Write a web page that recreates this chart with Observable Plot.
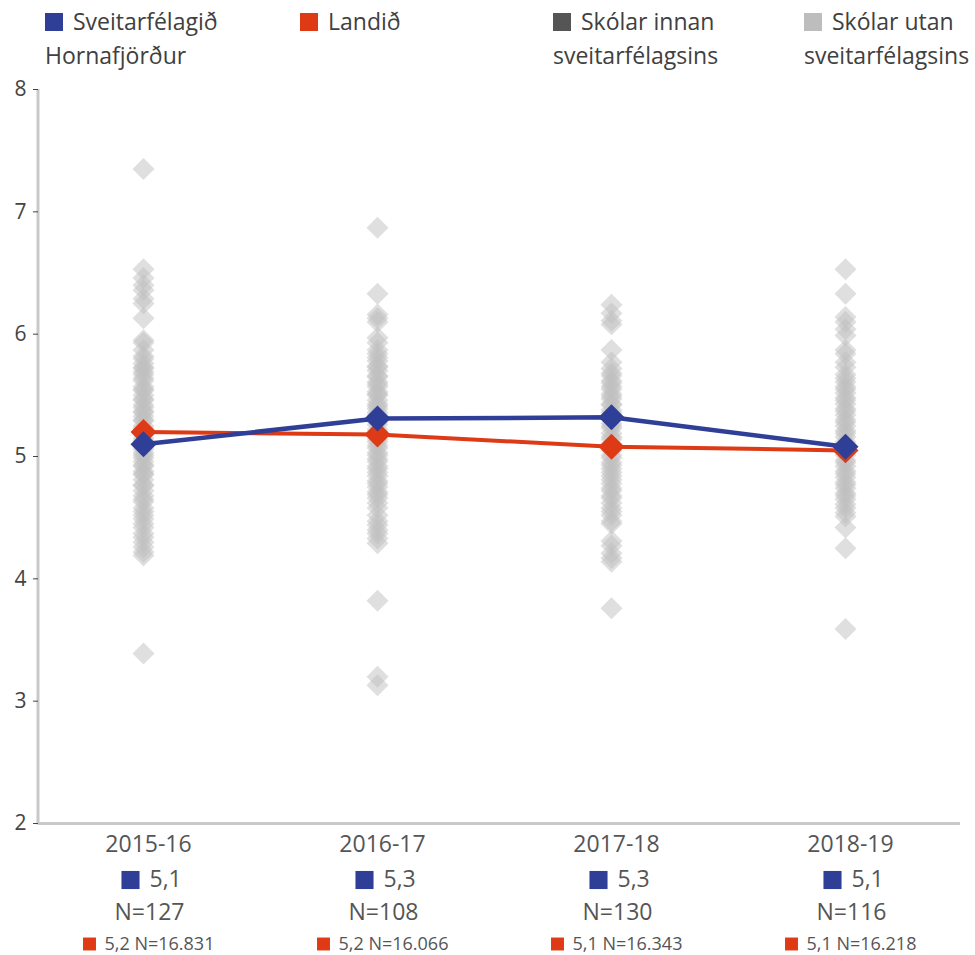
<!DOCTYPE html>
<html>
<head>
<meta charset="utf-8">
<script src="https://cdn.jsdelivr.net/npm/d3@7"></script>
<script src="https://cdn.jsdelivr.net/npm/@observablehq/plot@0.6"></script>
<style>
  html, body { margin: 0; padding: 0; background: #fff; overflow: hidden; }
  body { font-family: "Open Sans", sans-serif; width: 975px; }
  #legend { position: relative; height: 78px; width: 975px; }
  .item { position: absolute; top: 4px; width: 175px; font-size: 23px; line-height: 34px; color: #404040; }
  .sw { display: inline-block; width: 18px; height: 18px; margin-right: 10px; position: relative; top: 1px; }
  #chart svg { display: block; }
</style>
</head>
<body>
<div id="legend"></div>
<div id="chart"></div>
<script>
// ---- data ----
const years = ["2015-16", "2016-17", "2017-18", "2018-19"];
const hornafjordur = [5.10, 5.31, 5.32, 5.08];
const landid = [5.20, 5.18, 5.08, 5.05];
const hornLabels = ["5,1", "5,3", "5,3", "5,1"];
const hornN = ["N=127", "N=108", "N=130", "N=116"];
const landLabels = ["5,2 N=16.831", "5,2 N=16.066", "5,1 N=16.343", "5,1 N=16.218"];
const yTicks = [2, 3, 4, 5, 6, 7, 8];

const schools2015 = [7.35, 6.53, 6.46, 6.40, 6.36, 6.29, 6.25, 6.13, 5.95, 5.93, 5.87, 5.82, 5.80, 5.76,
  5.73, 5.72, 5.69, 5.67, 5.64, 5.62, 5.57, 5.55, 5.54, 5.50, 5.47, 5.46, 5.42, 5.40, 5.37, 5.36,
  5.33, 5.30, 5.29, 5.25, 5.23, 5.21, 5.18, 5.15, 5.13, 5.12, 5.08, 5.06, 5.03, 5.01, 4.99, 4.96,
  4.93, 4.92, 4.88, 4.86, 4.85, 4.81, 4.77, 4.76, 4.72, 4.68, 4.65, 4.63, 4.58, 4.55, 4.52, 4.49,
  4.45, 4.42, 4.37, 4.34, 4.30, 4.26, 4.22, 4.19, 3.39];
const schools2016 = [6.87, 6.33, 6.16, 6.13, 6.10, 5.97, 5.93, 5.87, 5.84, 5.81, 5.78, 5.74, 5.73,
  5.70, 5.66, 5.65, 5.61, 5.59, 5.57, 5.53, 5.51, 5.50, 5.46, 5.43, 5.41, 5.39, 5.36, 5.34, 5.30,
  5.28, 5.26, 5.22, 5.20, 5.18, 5.14, 5.12, 5.09, 5.07, 5.03, 5.01, 4.98, 4.96, 4.92, 4.90, 4.87,
  4.84, 4.80, 4.78, 4.75, 4.71, 4.69, 4.66, 4.62, 4.58, 4.52, 4.47, 4.44, 4.40, 4.37, 4.33, 4.29,
  3.82, 3.20, 3.13];
const schools2017 = [6.24, 6.17, 6.11, 6.08, 5.87, 5.77, 5.72, 5.68, 5.66, 5.62, 5.60, 5.57, 5.55,
  5.51, 5.49, 5.47, 5.43, 5.42, 5.38, 5.36, 5.33, 5.31, 5.27, 5.25, 5.23, 5.19, 5.16, 5.14, 5.10,
  5.08, 5.05, 5.01, 4.99, 4.95, 4.93, 4.90, 4.87, 4.84, 4.81, 4.78, 4.74, 4.72, 4.68, 4.66, 4.62,
  4.58, 4.55, 4.52, 4.47, 4.45, 4.31, 4.27, 4.21, 4.17, 4.14, 3.76];
const schools2018 = [6.53, 6.33, 6.14, 6.10, 6.04, 5.99, 5.87, 5.84, 5.77, 5.73, 5.67, 5.64, 5.61,
  5.57, 5.55, 5.52, 5.48, 5.46, 5.43, 5.39, 5.37, 5.34, 5.30, 5.28, 5.25, 5.21, 5.19, 5.16, 5.12,
  5.10, 5.07, 5.03, 5.01, 4.97, 4.95, 4.92, 4.88, 4.86, 4.83, 4.79, 4.77, 4.74, 4.70, 4.68, 4.65,
  4.61, 4.58, 4.54, 4.51, 4.42, 4.25, 3.59];

const legendItems = ["Sveitarfélagið Hornafjörður", "Landið", "Skólar innan sveitarfélagsins", "Skólar utan sveitarfélagsins"];
const legendColors = ["#2f3e97", "#dd3a15", "#555555", "#bdbdbd"];
const legendLeft = [45, 300, 553, 804];

// ---- tables built from the arrays ----
const series = years.map((year, i) => ({
  year, horn: hornafjordur[i], land: landid[i],
  hornLabel: hornLabels[i], hornN: hornN[i], landLabel: landLabels[i]
}));
const schoolLists = [schools2015, schools2016, schools2017, schools2018];
const schools = years.flatMap((year, i) => schoolLists[i].map(value => ({year, value})));

const BLUE = legendColors[0], RED = legendColors[1];

// ---- legend ----
const legend = document.getElementById("legend");
legendItems.forEach((label, i) => {
  const div = document.createElement("div");
  div.className = "item";
  div.style.left = legendLeft[i] + "px";
  const sw = document.createElement("span");
  sw.className = "sw";
  sw.style.background = legendColors[i];
  div.appendChild(sw);
  div.appendChild(document.createTextNode(label));
  legend.appendChild(div);
});

// ---- chart ----
const leftAxisLine = (index, scales, values, dimensions) => {
  const ns = "http://www.w3.org/2000/svg";
  const line = document.createElementNS(ns, "line");
  const x = dimensions.marginLeft;
  line.setAttribute("x1", x);
  line.setAttribute("x2", x);
  line.setAttribute("y1", scales.y(8));
  line.setAttribute("y2", scales.y(2) + 1.5);
  line.setAttribute("stroke", "#c9c9c9");
  line.setAttribute("stroke-width", 3);
  return line;
};

const chart = Plot.plot({
  width: 975,
  height: 877,
  marginTop: 11,
  marginBottom: 132,
  marginLeft: 38,
  marginRight: 15,
  style: {fontFamily: "'Open Sans', sans-serif", background: "#fff", overflow: "visible"},
  x: {type: "point", domain: years, padding: 0, insetLeft: 104, insetRight: 114},
  y: {domain: [2, 8]},
  marks: [
    Plot.ruleY([2], {stroke: "#c9c9c9", strokeWidth: 3}),
    leftAxisLine,
    Plot.axisY({ticks: yTicks, tickFormat: d => String(d), tickSize: 5, tickPadding: 7, fontSize: 21, color: "#444", label: null}),
    Plot.axisX({tickSize: 0, tickPadding: 12, fontSize: 23, color: "#555", dx: 5, label: null}),
    Plot.dot(schools, {x: "year", y: "value", symbol: "diamond2", r: 9.9, fill: "#c0c0c0", fillOpacity: 0.5, stroke: null}),
    Plot.line(series, {x: "year", y: "land", stroke: RED, strokeWidth: 4}),
    Plot.line(series, {x: "year", y: "horn", stroke: BLUE, strokeWidth: 4.5}),
    Plot.dot(series, {x: "year", y: "land", symbol: "diamond2", r: 11.7, fill: RED, stroke: null}),
    Plot.dot(series, {x: "year", y: "horn", symbol: "diamond2", r: 11.7, fill: BLUE, stroke: null}),
    // labels below the axis
    Plot.dot(series, {x: "year", frameAnchor: "bottom", dy: 56.5, dx: -13, symbol: "square", r: 10.2, fill: BLUE, stroke: null}),
    Plot.text(series, {x: "year", text: "hornLabel", frameAnchor: "bottom", dy: 56.5, dx: 6, textAnchor: "start", lineAnchor: "middle", fontSize: 23, fill: "#555"}),
    Plot.text(series, {x: "year", text: "hornN", frameAnchor: "bottom", dy: 89, dx: 6, textAnchor: "middle", lineAnchor: "middle", fontSize: 23, fill: "#555"}),
    Plot.dot(series, {x: "year", frameAnchor: "bottom", dy: 120.5, dx: -54, symbol: "square", r: 7.3, fill: RED, stroke: null}),
    Plot.text(series, {x: "year", text: "landLabel", frameAnchor: "bottom", dy: 120.5, dx: -39, textAnchor: "start", lineAnchor: "middle", fontSize: 18, fill: "#555"})
  ]
});
document.getElementById("chart").appendChild(chart);
</script>
</body>
</html>
